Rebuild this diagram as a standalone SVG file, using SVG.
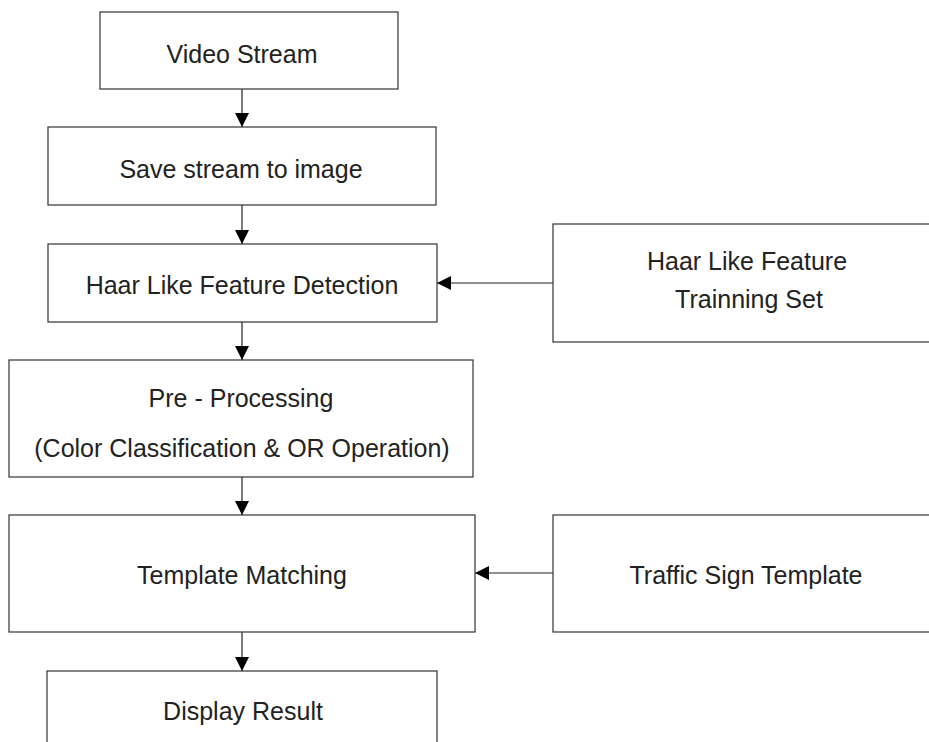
<svg xmlns="http://www.w3.org/2000/svg" width="929" height="742" viewBox="0 0 929 742">
  <defs>
    <marker id="ah" markerWidth="14" markerHeight="14" refX="14" refY="7" orient="auto" markerUnits="userSpaceOnUse">
      <path d="M0,0 L14,7 L0,14 Z" fill="#000"/>
    </marker>
    <style>
      .box { fill: #fff; stroke: #333; stroke-width: 1.2; }
      .lbl { font-family: "Liberation Sans", Arial, sans-serif; font-size: 25px; fill: #222; text-anchor: middle; }
      .con { stroke: #222; stroke-width: 1.2; fill: none; marker-end: url(#ah); }
    </style>
  </defs>
  <rect width="929" height="742" fill="#fff"/>
  <g id="connectors">
    <line class="con" x1="242" y1="89" x2="242" y2="127"/>
    <line class="con" x1="242" y1="205" x2="242" y2="244"/>
    <line class="con" x1="553" y1="283" x2="437" y2="283"/>
    <line class="con" x1="242" y1="322" x2="242" y2="360"/>
    <line class="con" x1="242" y1="477" x2="242" y2="515"/>
    <line class="con" x1="553" y1="573" x2="475" y2="573"/>
    <line class="con" x1="242" y1="632" x2="242" y2="671"/>
  </g>
  <g id="video-stream">
    <rect class="box" x="100" y="12" width="298" height="77"/>
    <text class="lbl" x="242" y="63">Video Stream</text>
  </g>
  <g id="save-stream">
    <rect class="box" x="48" y="127" width="388" height="78"/>
    <text class="lbl" x="241" y="178">Save stream to image</text>
  </g>
  <g id="haar-detection">
    <rect class="box" x="48" y="244" width="389" height="78"/>
    <text class="lbl" x="242" y="294">Haar Like Feature Detection</text>
  </g>
  <g id="haar-training">
    <rect class="box" x="553" y="224" width="390" height="118"/>
    <text class="lbl" x="747" y="270">Haar Like Feature</text>
    <text class="lbl" x="749" y="308">Trainning Set</text>
  </g>
  <g id="pre-processing">
    <rect class="box" x="9" y="360" width="464" height="117"/>
    <text class="lbl" x="241" y="407">Pre - Processing</text>
    <text class="lbl" x="242" y="457">(Color Classification &amp; OR Operation)</text>
  </g>
  <g id="template-matching">
    <rect class="box" x="9" y="515" width="466" height="117"/>
    <text class="lbl" x="242" y="584">Template Matching</text>
  </g>
  <g id="traffic-sign-template">
    <rect class="box" x="553" y="515" width="390" height="117"/>
    <text class="lbl" x="746" y="584">Traffic Sign Template</text>
  </g>
  <g id="display-result">
    <rect class="box" x="47" y="671" width="390" height="90"/>
    <text class="lbl" x="243" y="720">Display Result</text>
  </g>
</svg>
